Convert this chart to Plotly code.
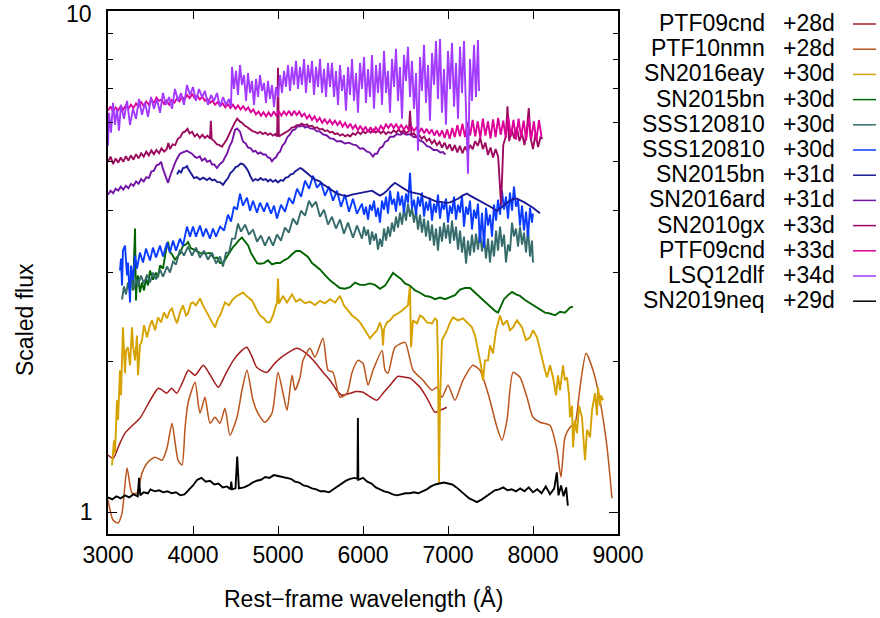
import plotly.graph_objects as go

# Each spectrum: (rest-frame wavelength in Angstrom, scaled flux)
ptf09cnd_28d = [(3000, 1.30), (3062, 1.28), (3130, 1.36), (3200, 1.437), (3290, 1.49), (3376, 1.54), (3470, 1.64),
                (3540, 1.72), (3592, 1.766), (3640, 1.75), (3690, 1.726), (3749, 1.766), (3808, 1.726), (3880, 1.82),
                (3945, 1.919), (4024, 1.875), (4121, 1.963), (4200, 1.88), (4298, 1.774), (4380, 1.88), (4474, 2.008),
                (4560, 2.09), (4632, 2.132), (4690, 2.05), (4749, 1.945), (4867, 1.90), (4950, 1.97), (5024, 2.026),
                (5120, 2.08), (5220, 2.122), (5320, 2.08), (5416, 2.008), (5520, 1.91), (5612, 1.832), (5690, 1.75),
                (5749, 1.711), (5847, 1.726), (5920, 1.74), (6000, 1.734), (6080, 1.70), (6161, 1.671), (6240, 1.73),
                (6318, 1.791), (6412, 1.866), (6480, 1.86), (6553, 1.85), (6671, 1.774), (6760, 1.68), (6847, 1.582),
                (6920, 1.60), (6985, 1.619)]

ptf10nmn_28d = [(3000, 1.057), (3059, 0.964), (3118, 0.951), (3165, 0.995), (3224, 1.224), (3282, 1.091), (3341, 1.091),
                (3400, 1.196), (3471, 1.258), (3553, 1.287), (3635, 1.269), (3694, 1.341), (3753, 1.504), (3824, 1.269),
                (3871, 1.241), (3906, 1.470), (3941, 1.649), (4024, 1.815), (4082, 1.574), (4141, 1.695), (4200, 1.504),
                (4259, 1.546), (4318, 1.504), (4376, 1.611), (4435, 1.423), (4518, 1.546), (4576, 1.750), (4635, 1.919),
                (4706, 1.671), (4765, 1.574), (4847, 1.511), (4929, 1.574), (5000, 1.90), (5059, 1.726), (5106, 1.596),
                (5165, 1.875), (5200, 1.750), (5259, 1.858), (5294, 2.008), (5376, 2.122), (5435, 2.036), (5529, 2.222),
                (5588, 1.919), (5647, 1.90), (5729, 1.695), (5812, 1.726), (5871, 1.90), (5941, 2.008), (6000, 1.981),
                (6059, 1.791), (6118, 1.919), (6224, 2.102), (6259, 1.919), (6294, 1.892), (6376, 2.132), (6494, 2.181),
                (6588, 1.919), (6706, 1.832), (6812, 1.750), (6871, 1.774), (6929, 1.695), (7000, 1.791), (7082, 1.671),
                (7176, 1.832), (7294, 1.963), (7376, 1.919), (7471, 1.726), (7576, 1.477), (7635, 1.391), (7694, 1.525),
                (7765, 1.90), (7847, 1.858), (7929, 1.695), (8000, 1.546), (8082, 1.511), (8200, 1.490), (8282, 1.329),
                (8329, 1.174), (8376, 1.410), (8435, 1.477), (8494, 1.504), (8553, 1.774), (8624, 2.074), (8706, 1.919),
                (8788, 1.671), (8871, 1.347), (8929, 1.066)]

sn2016eay_30d = [(3047, 1.24), (3071, 1.39), (3082, 1.311), (3106, 1.671), (3118, 1.525), (3141, 1.919), (3153, 1.71),
                 (3176, 2.337), (3200, 1.892), (3212, 2.10), (3235, 2.132), (3259, 1.963), (3282, 2.337), (3294, 2.151),
                 (3318, 2.008), (3341, 2.25), (3353, 1.875), (3376, 2.151), (3400, 2.202), (3424, 2.36), (3459, 2.232),
                 (3494, 2.36), (3518, 2.413), (3553, 2.305), (3588, 2.446), (3624, 2.391), (3659, 2.503), (3694, 2.435),
                 (3729, 2.526), (3753, 2.549), (3788, 2.435), (3812, 2.380), (3847, 2.503), (3882, 2.585), (3918, 2.468),
                 (3941, 2.491), (3976, 2.608), (4000, 2.620), (4035, 2.585), (4082, 2.669), (4118, 2.585), (4165, 2.491),
                 (4212, 2.413), (4259, 2.337), (4294, 2.435), (4318, 2.468), (4353, 2.549), (4376, 2.620), (4424, 2.585),
                 (4459, 2.645), (4506, 2.694), (4553, 2.719), (4588, 2.744), (4635, 2.694), (4671, 2.669), (4694, 2.645),
                 (4741, 2.549), (4788, 2.468), (4835, 2.435), (4871, 2.391), (4906, 2.391), (4941, 2.468), (4976, 2.585),
                 (4988, 2.608), (5000, 2.925), (5012, 2.608), (5059, 2.70), (5106, 2.62), (5165, 2.72), (5212, 2.63),
                 (5259, 2.66), (5318, 2.61), (5376, 2.63), (5435, 2.59), (5494, 2.64), (5553, 2.61), (5612, 2.66),
                 (5671, 2.62), (5729, 2.70), (5776, 2.585), (5823, 2.526), (5871, 2.468), (5918, 2.435), (5965, 2.391),
                 (6024, 2.305), (6082, 2.222), (6129, 2.27), (6165, 2.305), (6200, 2.391), (6224, 2.305), (6235, 2.151),
                 (6247, 2.32), (6282, 2.391), (6318, 2.413), (6365, 2.468), (6412, 2.491), (6459, 2.526), (6494, 2.561),
                 (6529, 2.585), (6553, 2.833), (6565, 2.132), (6588, 2.413), (6635, 2.380), (6671, 2.468), (6706, 2.446),
                 (6753, 2.391), (6812, 2.380), (6847, 2.435), (6871, 2.413), (6882, 2.0), (6894, 1.142), (6906, 1.671),
                 (6929, 2.202), (6988, 2.305), (7024, 2.391), (7059, 2.446), (7118, 2.413), (7176, 2.435), (7224, 2.391),
                 (7282, 2.337), (7318, 2.25), (7353, 2.102), (7388, 1.963), (7412, 1.832), (7435, 2.008), (7471, 2.008),
                 (7494, 2.151), (7529, 2.074), (7565, 2.305), (7612, 2.468), (7647, 2.36), (7694, 2.413), (7729, 2.305),
                 (7765, 2.337), (7812, 2.413), (7871, 2.337), (7918, 2.202), (7965, 2.232), (8000, 2.305), (8047, 2.232),
                 (8082, 2.102), (8106, 2.036), (8141, 1.919), (8165, 1.858), (8200, 1.963), (8235, 1.858), (8271, 1.71),
                 (8294, 1.875), (8318, 1.750), (8353, 1.963), (8376, 1.832), (8400, 1.858), (8424, 1.71), (8435, 1.546),
                 (8459, 1.63), (8471, 1.347), (8494, 1.525), (8518, 1.437), (8541, 1.63), (8576, 1.546), (8600, 1.391),
                 (8612, 1.269), (8635, 1.46), (8671, 1.410), (8694, 1.596), (8729, 1.726), (8753, 1.56), (8765, 1.774),
                 (8788, 1.63), (8800, 1.71), (8824, 1.671)]

sn2015bn_30d = [(3294, 2.769), (3306, 3.105), (3318, 3.679), (3329, 2.645), (3341, 2.899), (3353, 2.965), (3376, 2.744),
                (3400, 2.872), (3424, 2.769), (3447, 2.925), (3471, 2.833), (3494, 3.034), (3529, 2.91), (3565, 3.006),
                (3588, 2.94), (3612, 3.105), (3647, 3.06), (3682, 3.325), (3706, 3.465), (3729, 3.30), (3753, 3.27),
                (3788, 3.19), (3812, 3.22), (3847, 3.28), (3882, 3.40), (3918, 3.42), (3941, 3.46), (3976, 3.36),
                (4012, 3.34), (4047, 3.31), (4082, 3.29), (4141, 3.28), (4200, 3.29), (4247, 3.21), (4282, 3.22),
                (4318, 3.14), (4353, 3.14), (4388, 3.21), (4424, 3.29), (4471, 3.38), (4506, 3.43), (4541, 3.49),
                (4576, 3.53), (4612, 3.47), (4647, 3.41), (4682, 3.29), (4718, 3.21), (4753, 3.14), (4788, 3.13),
                (4835, 3.14), (4882, 3.18), (4929, 3.12), (4976, 3.14), (5024, 3.14), (5071, 3.18), (5118, 3.21),
                (5165, 3.27), (5212, 3.32), (5259, 3.32), (5306, 3.27), (5353, 3.23), (5400, 3.14), (5447, 3.10),
                (5494, 3.05), (5553, 2.97), (5612, 2.90), (5671, 2.85), (5729, 2.80), (5788, 2.79), (5847, 2.81),
                (5906, 2.87), (5965, 2.84), (6024, 2.84), (6082, 2.86), (6141, 2.84), (6200, 2.79), (6259, 2.83),
                (6306, 2.92), (6353, 3.00), (6400, 2.96), (6447, 2.92), (6494, 2.86), (6553, 2.83), (6612, 2.77),
                (6671, 2.74), (6729, 2.70), (6788, 2.69), (6847, 2.66), (6906, 2.68), (6965, 2.66), (7024, 2.69),
                (7082, 2.71), (7141, 2.78), (7200, 2.80), (7259, 2.80), (7318, 2.74), (7376, 2.69), (7435, 2.63),
                (7494, 2.57), (7553, 2.52), (7588, 2.50), (7624, 2.57), (7659, 2.66), (7706, 2.71), (7753, 2.75),
                (7800, 2.72), (7847, 2.70), (7906, 2.65), (7965, 2.61), (8024, 2.57), (8082, 2.54), (8141, 2.50),
                (8200, 2.49), (8259, 2.47), (8318, 2.51), (8376, 2.50), (8435, 2.56), (8471, 2.57)]

sss120810_30d_a = [(3165, 2.656), (3188, 2.820), (3212, 2.718), (3235, 2.872), (3259, 2.756), (3282, 2.912), (3306, 2.782),
                   (3329, 2.926), (3353, 2.833), (3388, 2.965), (3424, 2.859), (3459, 2.979), (3494, 2.872), (3529, 3.006),
                   (3565, 2.912), (3612, 3.048), (3647, 2.951), (3694, 3.091), (3729, 3.006), (3765, 3.162), (3800, 3.119),
                   (3847, 3.340), (3894, 3.251), (3941, 3.386), (3988, 3.251), (4035, 3.371), (4082, 3.221), (4129, 3.325),
                   (4176, 3.192), (4224, 3.294), (4271, 3.134), (4318, 3.236), (4353, 3.091), (4388, 3.294), (4424, 3.294),
                   (4459, 3.513), (4494, 3.513), (4529, 3.764), (4565, 3.629), (4612, 3.747), (4659, 3.578), (4706, 3.663),
                   (4753, 3.465), (4800, 3.562), (4847, 3.402), (4894, 3.546), (4941, 3.402), (4988, 3.578), (5035, 3.481),
                   (5082, 3.696), (5129, 3.612), (5176, 3.852), (5224, 3.747), (5271, 3.995), (5318, 3.904), (5365, 4.182),
                   (5400, 4.069), (5447, 4.163), (5494, 3.886), (5541, 4.013), (5588, 3.747), (5635, 3.886), (5682, 3.680),
                   (5729, 3.835), (5776, 3.595), (5823, 3.782), (5882, 3.529), (5929, 3.730),
                   (5988, 3.513), (6012, 3.713), (6035, 3.562), (6059, 3.663), (6082, 3.418), (6106, 3.629), (6129, 3.481),
                   (6153, 3.595), (6176, 3.340), (6200, 3.513), (6224, 3.386), (6247, 3.680), (6271, 3.481), (6294, 3.713),
                   (6318, 3.546), (6341, 3.782), (6365, 3.629), (6388, 3.886), (6412, 3.696), (6435, 3.958), (6459, 3.747),
                   (6482, 4.032), (6506, 3.817), (6529, 4.125), (6553, 3.886), (6576, 4.050), (6600, 3.782), (6624, 3.995),
                   (6647, 3.663), (6671, 3.922), (6694, 3.612), (6718, 3.852), (6741, 3.546), (6765, 3.817), (6788, 3.481),
                   (6812, 3.747), (6835, 3.402), (6859, 3.680), (6882, 3.325), (6906, 3.713), (6929, 3.465), (6953, 3.782),
                   (6976, 3.513), (7000, 3.747), (7024, 3.434), (7047, 3.817), (7071, 3.481), (7094, 3.713), (7118, 3.340),
                   (7141, 3.646), (7165, 3.296), (7188, 3.546), (7212, 3.133), (7235, 3.481), (7259, 3.251), (7282, 3.578),
                   (7306, 3.296), (7329, 3.595), (7353, 3.340), (7376, 3.646), (7400, 3.311), (7424, 3.546), (7447, 3.206),
                   (7471, 3.513), (7494, 3.148), (7518, 3.481), (7541, 3.236), (7565, 3.646), (7588, 3.325), (7612, 3.713),
                   (7635, 3.386), (7659, 3.578), (7682, 3.148), (7706, 3.418), (7729, 3.311), (7753, 3.782), (7776, 3.546),
                   (7800, 3.680), (7824, 3.386), (7847, 3.713), (7871, 3.418), (7894, 3.612), (7918, 3.296), (7941, 3.680),
                   (7965, 3.236), (7988, 3.481), (8000, 3.148)]

sss120810_30d_b = [(3141, 3.034), (3153, 3.206), (3165, 2.833), (3176, 3.325), (3200, 3.402), (3224, 2.965), (3235, 3.148),
                   (3259, 2.620), (3271, 3.105), (3294, 2.899), (3318, 3.251), (3341, 3.062), (3376, 3.296), (3412, 3.148),
                   (3447, 3.356), (3494, 3.177), (3529, 3.371), (3565, 3.221), (3612, 3.402), (3647, 3.236), (3694, 3.449),
                   (3729, 3.296), (3765, 3.481), (3800, 3.325), (3847, 3.513), (3882, 3.402), (3929, 3.713), (3965, 3.546),
                   (4000, 3.713), (4035, 3.546), (4082, 3.730), (4118, 3.546), (4153, 3.680), (4200, 3.513), (4235, 3.680),
                   (4271, 3.546), (4318, 3.713), (4365, 3.646), (4412, 3.922), (4447, 3.799), (4482, 4.069), (4518, 4.013),
                   (4553, 4.319), (4588, 4.088), (4635, 4.241), (4671, 3.995), (4706, 4.182), (4753, 3.958), (4788, 4.144),
                   (4835, 3.976), (4871, 4.144), (4918, 3.940), (4953, 4.088), (4988, 3.852), (5035, 4.107), (5082, 3.976),
                   (5129, 4.241), (5176, 4.125), (5224, 4.420), (5271, 4.260), (5318, 4.585), (5365, 4.420), (5412, 4.691),
                   (5459, 4.440), (5506, 4.543), (5553, 4.280), (5600, 4.460), (5647, 4.182), (5694, 4.379), (5741, 4.069),
                   (5788, 4.300), (5835, 3.976), (5882, 4.221), (5929, 3.940),
                   (5988, 4.125), (6012, 3.922), (6035, 4.069), (6059, 3.835), (6082, 4.107), (6106, 3.995), (6129, 4.182),
                   (6153, 3.886), (6176, 4.050), (6200, 3.782), (6224, 4.182), (6247, 4.013), (6271, 4.260), (6294, 3.940),
                   (6318, 4.379), (6341, 4.107), (6365, 4.221), (6388, 3.977), (6412, 4.359), (6435, 4.088), (6459, 4.280),
                   (6482, 3.958), (6506, 4.319), (6529, 4.144), (6553, 4.756), (6576, 4.032), (6600, 4.201), (6624, 3.922),
                   (6647, 4.260), (6671, 4.069), (6694, 4.339), (6718, 3.886), (6741, 4.163), (6765, 3.995), (6788, 4.241),
                   (6812, 3.817), (6835, 4.125), (6859, 3.958), (6882, 4.300), (6906, 3.852), (6929, 4.144), (6953, 4.013),
                   (6976, 4.221), (7000, 3.782), (7024, 4.088), (7047, 3.940), (7071, 4.260), (7094, 3.835), (7118, 4.107),
                   (7141, 3.958), (7165, 4.280), (7188, 3.713), (7212, 4.069), (7235, 3.922), (7259, 4.182), (7282, 3.663),
                   (7306, 4.013), (7329, 3.852), (7353, 4.125), (7376, 3.449), (7400, 3.958), (7424, 3.371), (7447, 4.050),
                   (7471, 3.730), (7494, 3.922), (7518, 3.546), (7541, 4.107), (7565, 3.817), (7588, 4.201), (7612, 3.922),
                   (7635, 4.379), (7659, 4.013), (7682, 4.260), (7706, 3.852), (7729, 4.339), (7753, 3.995), (7776, 4.460),
                   (7800, 4.069), (7824, 4.201), (7847, 3.730), (7871, 4.088), (7894, 3.646), (7918, 3.977), (7941, 3.546),
                   (7965, 4.050), (7988, 3.782), (8000, 3.940)]

sn2015bn_31d = [(3812, 4.72), (3835, 4.80), (3859, 4.76), (3882, 4.86), (3906, 4.87), (3930, 4.90), (3941, 4.85),
                (3960, 4.80), (3976, 4.74), (3995, 4.70), (4012, 4.64), (4045, 4.66), (4082, 4.61), (4120, 4.65),
                (4165, 4.60), (4195, 4.64), (4224, 4.59), (4255, 4.61), (4282, 4.56), (4320, 4.55), (4353, 4.50),
                (4385, 4.58), (4412, 4.64), (4440, 4.75), (4471, 4.80), (4500, 4.88), (4529, 4.90), (4560, 4.96),
                (4588, 4.95), (4620, 4.88), (4647, 4.80), (4675, 4.68), (4706, 4.58), (4735, 4.62), (4765, 4.59),
                (4795, 4.64), (4824, 4.60), (4855, 4.62), (4882, 4.57), (4910, 4.61), (4941, 4.56), (4970, 4.60),
                (5000, 4.55), (5030, 4.60), (5059, 4.58), (5090, 4.65), (5118, 4.66), (5150, 4.72), (5176, 4.73),
                (5205, 4.79), (5235, 4.82), (5260, 4.86), (5282, 4.84), (5305, 4.80), (5329, 4.77), (5355, 4.73),
                (5376, 4.69), (5410, 4.64), (5447, 4.60), (5490, 4.57), (5529, 4.51), (5570, 4.47), (5612, 4.42),
                (5650, 4.37), (5694, 4.32), (5750, 4.29), (5812, 4.27), (5870, 4.30), (5929, 4.32), (5975, 4.33),
                (6024, 4.35), (6065, 4.36), (6106, 4.38), (6150, 4.33), (6200, 4.28), (6240, 4.32), (6282, 4.38),
                (6330, 4.47), (6376, 4.54), (6410, 4.50), (6447, 4.46), (6480, 4.41), (6518, 4.38), (6560, 4.35),
                (6600, 4.34), (6635, 4.33), (6671, 4.31), (6710, 4.27), (6753, 4.24), (6790, 4.20), (6824, 4.18),
                (6870, 4.16), (6918, 4.16), (6970, 4.14), (7024, 4.15), (7070, 4.18), (7118, 4.22), (7170, 4.28),
                (7224, 4.32), (7260, 4.28), (7294, 4.25), (7335, 4.21), (7376, 4.18), (7420, 4.14), (7471, 4.10),
                (7520, 4.05), (7576, 3.99), (7605, 4.03), (7635, 4.07), (7665, 4.11), (7694, 4.14), (7725, 4.18),
                (7753, 4.20), (7780, 4.22), (7812, 4.22), (7840, 4.20), (7871, 4.18), (7900, 4.15), (7929, 4.12),
                (7965, 4.09), (8000, 4.05), (8040, 4.00), (8082, 3.95)]

sn2016ard_31d = [(3000, 4.30), (3030, 4.38), (3060, 4.33), (3090, 4.42), (3120, 4.38), (3150, 4.46), (3180, 4.40),
                 (3210, 4.48), (3240, 4.43), (3270, 4.52), (3300, 4.48), (3330, 4.57), (3360, 4.52), (3390, 4.62),
                 (3420, 4.57), (3450, 4.66), (3480, 4.64), (3510, 4.78), (3540, 4.80), (3570, 4.92), (3600, 4.94),
                 (3625, 5.00), (3647, 4.84), (3670, 4.70), (3695, 4.56), (3706, 4.54), (3730, 4.68), (3765, 4.87),
                 (3790, 4.98), (3812, 5.07), (3847, 5.19), (3880, 5.22), (3929, 5.26), (3960, 5.22), (3988, 5.19),
                 (4020, 5.12), (4047, 5.09), (4080, 5.13), (4106, 5.03), (4140, 5.08), (4165, 5.00), (4200, 5.03),
                 (4224, 4.94), (4250, 4.94), (4282, 4.86), (4318, 4.95), (4353, 5.01), (4380, 5.12), (4400, 5.19),
                 (4430, 5.37), (4459, 5.49), (4494, 5.79), (4518, 5.83), (4553, 5.74), (4588, 5.49), (4620, 5.44),
                 (4647, 5.34), (4680, 5.32), (4706, 5.24), (4735, 5.26), (4765, 5.19), (4795, 5.22), (4824, 5.17),
                 (4855, 5.17), (4882, 5.10), (4905, 5.09), (4929, 5.01), (4955, 5.08), (4976, 5.10), (5000, 5.20),
                 (5024, 5.24), (5050, 5.38), (5082, 5.46), (5110, 5.60), (5141, 5.67), (5170, 5.78), (5200, 5.80),
                 (5230, 5.89), (5259, 5.88), (5290, 5.91), (5318, 5.85), (5345, 5.88), (5376, 5.83), (5420, 5.82),
                 (5459, 5.75), (5490, 5.75), (5529, 5.67), (5570, 5.65), (5612, 5.57), (5650, 5.56), (5694, 5.49),
                 (5740, 5.50), (5788, 5.44), (5835, 5.46), (5882, 5.41), (5920, 5.40), (5965, 5.31), (6000, 5.32),
                 (6047, 5.24), (6080, 5.22), (6118, 5.12), (6140, 5.19), (6165, 5.19), (6200, 5.33), (6230, 5.36),
                 (6259, 5.48), (6290, 5.51), (6318, 5.61), (6360, 5.61), (6400, 5.68), (6440, 5.66), (6471, 5.71),
                 (6510, 5.66), (6553, 5.68), (6600, 5.60), (6635, 5.61), (6670, 5.51), (6706, 5.48), (6750, 5.38),
                 (6788, 5.35), (6830, 5.28), (6871, 5.28), (6910, 5.22), (6941, 5.23), (6970, 5.17)]

sn2010gx_33d = [(3000, 5.00), (3030, 5.12), (3060, 4.95), (3090, 5.08), (3120, 4.98), (3150, 5.10), (3180, 5.00),
                (3210, 5.13), (3240, 5.03), (3270, 5.15), (3300, 5.05), (3330, 5.18), (3360, 5.08), (3390, 5.20),
                (3420, 5.12), (3450, 5.24), (3480, 5.15), (3510, 5.27), (3540, 5.18), (3570, 5.28), (3600, 5.20),
                (3630, 5.32), (3660, 5.24), (3690, 5.30), (3710, 5.45), (3730, 5.30), (3760, 5.42), (3790, 5.40),
                (3820, 5.55), (3850, 5.60), (3880, 5.72), (3910, 5.75), (3935, 5.82), (3960, 5.70), (3990, 5.74),
                (4020, 5.62), (4050, 5.68), (4080, 5.58), (4110, 5.66), (4140, 5.58), (4170, 5.64), (4200, 5.56),
                (4210, 6.04), (4220, 5.55), (4250, 5.50), (4280, 5.42), (4310, 5.40), (4340, 5.36), (4370, 5.45),
                (4400, 5.55), (4430, 5.70), (4460, 5.85), (4490, 5.98), (4520, 6.10), (4550, 6.02), (4580, 5.98),
                (4610, 5.90), (4640, 5.86), (4670, 5.80), (4700, 5.76), (4730, 5.74), (4760, 5.70), (4790, 5.74),
                (4820, 5.68), (4850, 5.72), (4880, 5.66), (4910, 5.70), (4940, 5.64), (4970, 5.68), (4990, 5.62),
                (5000, 7.70), (5010, 5.62), (5040, 5.66), (5070, 5.70), (5100, 5.74), (5130, 5.78), (5160, 5.85),
                (5190, 5.86), (5220, 5.92), (5250, 5.92), (5280, 5.96), (5310, 5.92), (5340, 5.94), (5370, 5.88),
                (5400, 5.90), (5430, 5.84), (5460, 5.86), (5490, 5.80), (5520, 5.82), (5550, 5.76), (5580, 5.78),
                (5610, 5.72), (5640, 5.74), (5670, 5.68), (5700, 5.70), (5730, 5.64), (5760, 5.68), (5790, 5.62),
                (5820, 5.66), (5850, 5.62), (5880, 5.70), (5910, 5.66), (5940, 5.74), (5970, 5.68), (6000, 5.75),
                (6030, 5.70), (6060, 5.78), (6090, 5.72), (6120, 5.80), (6150, 5.72), (6180, 5.78), (6210, 5.70),
                (6240, 5.76), (6270, 5.68), (6300, 5.74), (6330, 5.70), (6360, 5.78), (6390, 5.72), (6420, 5.80),
                (6450, 5.72), (6480, 5.78), (6510, 5.70), (6540, 5.76), (6553, 6.32), (6570, 5.66), (6600, 5.70),
                (6630, 5.60), (6660, 5.66), (6690, 5.56), (6720, 5.62), (6750, 5.50), (6780, 5.56), (6810, 5.44),
                (6840, 5.52), (6870, 5.40), (6900, 5.48), (6930, 5.34), (6960, 5.46), (6990, 5.30), (7020, 5.42),
                (7050, 5.26), (7080, 5.40), (7110, 5.22), (7140, 5.38), (7170, 5.20), (7200, 5.36), (7230, 5.24),
                (7260, 5.40), (7290, 5.30), (7320, 5.50), (7350, 5.38), (7380, 5.58), (7410, 5.30), (7440, 5.46),
                (7470, 5.16), (7500, 5.34), (7530, 5.10), (7560, 5.30), (7590, 5.12), (7625, 4.10), (7650, 5.40),
                (7680, 5.62), (7700, 6.45), (7720, 5.50), (7750, 5.80), (7780, 5.56), (7810, 5.86), (7840, 5.50),
                (7870, 5.70), (7900, 5.40), (7930, 5.85), (7950, 6.40), (7970, 5.60), (8000, 5.30), (8030, 5.70),
                (8060, 5.35), (8090, 5.62), (8110, 5.55)]

ptf09cnd_33d = [(3000, 6.32), (3030, 6.45), (3060, 6.30), (3090, 6.42), (3120, 6.34), (3150, 6.46), (3180, 6.36),
                (3210, 6.48), (3240, 6.38), (3270, 6.50), (3300, 6.40), (3330, 6.54), (3360, 6.44), (3390, 6.58),
                (3420, 6.46), (3450, 6.60), (3480, 6.50), (3510, 6.66), (3540, 6.55), (3570, 6.72), (3600, 6.62),
                (3630, 6.66), (3660, 6.52), (3690, 6.62), (3720, 6.50), (3750, 6.64), (3780, 6.56), (3810, 6.68),
                (3840, 6.60), (3870, 6.74), (3900, 6.66), (3930, 6.80), (3960, 6.70), (3990, 6.82), (4020, 6.70),
                (4050, 6.78), (4080, 6.66), (4110, 6.74), (4140, 6.62), (4170, 6.68), (4200, 6.56), (4230, 6.62),
                (4260, 6.50), (4290, 6.58), (4320, 6.46), (4350, 6.54), (4380, 6.42), (4410, 6.52), (4440, 6.40),
                (4470, 6.50), (4500, 6.38), (4530, 6.48), (4560, 6.36), (4590, 6.46), (4620, 6.34), (4650, 6.42),
                (4680, 6.28), (4710, 6.36), (4740, 6.22), (4770, 6.30), (4800, 6.18), (4830, 6.28), (4860, 6.16),
                (4890, 6.28), (4920, 6.16), (4950, 6.30), (4980, 6.18), (5010, 6.30), (5040, 6.18), (5070, 6.30),
                (5100, 6.20), (5130, 6.32), (5160, 6.18), (5190, 6.32), (5220, 6.20), (5250, 6.30), (5280, 6.16),
                (5310, 6.24), (5340, 6.10), (5370, 6.20), (5400, 6.06), (5430, 6.16), (5460, 6.02), (5490, 6.12),
                (5520, 5.98), (5550, 6.08), (5580, 5.96), (5610, 6.06), (5640, 5.94), (5670, 6.04), (5700, 5.92),
                (5730, 6.02), (5760, 5.88), (5790, 5.98), (5820, 5.84), (5850, 5.96), (5880, 5.82), (5910, 5.92),
                (5940, 5.78), (5970, 5.90), (6000, 5.76), (6030, 5.88), (6060, 5.74), (6090, 5.86), (6120, 5.72),
                (6150, 5.86), (6180, 5.76), (6210, 5.90), (6240, 5.80), (6270, 5.94), (6300, 5.84), (6330, 5.96),
                (6360, 5.84), (6390, 5.94), (6420, 5.82), (6450, 5.92), (6480, 5.80), (6510, 5.90), (6540, 5.78),
                (6570, 5.88), (6600, 5.76), (6630, 5.86), (6660, 5.72), (6690, 5.84), (6720, 5.70), (6750, 5.82),
                (6780, 5.68), (6810, 5.80), (6840, 5.64), (6870, 5.78), (6900, 5.62), (6930, 5.78), (6960, 5.58),
                (6990, 5.80), (7020, 5.56), (7050, 5.84), (7080, 5.60), (7110, 5.92), (7140, 5.62), (7170, 5.96),
                (7200, 5.60), (7230, 6.00), (7260, 5.64), (7290, 6.06), (7320, 5.62), (7350, 6.02), (7380, 5.58),
                (7410, 6.10), (7440, 5.64), (7470, 6.02), (7500, 5.56), (7530, 6.08), (7560, 5.60), (7590, 6.12),
                (7620, 5.66), (7650, 6.04), (7680, 5.58), (7710, 6.14), (7740, 5.62), (7770, 6.06), (7800, 5.54),
                (7830, 6.10), (7860, 5.60), (7890, 6.04), (7920, 5.52), (7950, 6.12), (7980, 5.56), (8010, 6.02),
                (8040, 5.50), (8070, 6.06), (8100, 5.62)]

lsq12dlf_34d = [(3000, 5.384), (3012, 6.265), (3035, 5.715), (3059, 6.557), (3082, 5.928), (3106, 6.379), (3129, 5.767),
                (3153, 6.497), (3188, 6.094), (3224, 6.617), (3259, 5.928), (3294, 6.379), (3329, 6.094), (3365, 6.675),
                (3400, 6.208), (3435, 6.557), (3471, 6.150), (3506, 6.736), (3541, 6.379), (3576, 6.675), (3612, 6.265),
                (3647, 6.861), (3682, 6.497), (3718, 6.736), (3753, 6.379), (3788, 6.988), (3824, 6.617), (3859, 6.861),
                (3894, 6.497), (3929, 7.118), (3965, 6.798), (4000, 7.053), (4035, 6.617), (4071, 6.988), (4106, 6.736),
                (4141, 6.924), (4176, 6.497), (4212, 6.798), (4247, 6.617), (4282, 6.861), (4318, 6.438), (4353, 6.736),
                (4388, 6.497), (4424, 6.675), (4447, 6.438),
                (4459, 7.733), (4482, 6.988), (4506, 7.592), (4529, 6.798), (4553, 7.804), (4576, 7.118), (4600, 7.453),
                (4624, 6.617), (4647, 7.522), (4671, 6.861), (4694, 7.250), (4718, 6.497), (4741, 7.317), (4765, 6.736),
                (4788, 7.453), (4812, 6.924), (4835, 7.184), (4859, 6.557), (4882, 7.250), (4906, 6.675), (4929, 7.118),
                (4953, 6.438), (4976, 7.053), (5000, 6.736), (5024, 7.453), (5047, 6.861), (5071, 7.592), (5094, 7.053),
                (5118, 7.804), (5141, 6.924), (5165, 7.733), (5188, 7.118), (5212, 7.950), (5235, 6.988), (5259, 7.733),
                (5282, 7.118), (5306, 8.023), (5329, 6.861), (5353, 7.804), (5376, 7.184), (5400, 7.950), (5424, 6.798),
                (5447, 7.733), (5471, 7.053), (5494, 8.023), (5518, 6.861), (5541, 7.662), (5565, 6.736), (5588, 7.877),
                (5612, 7.053), (5635, 7.877), (5659, 6.736), (5682, 7.592), (5706, 6.497), (5729, 7.804), (5753, 6.924),
                (5776, 7.453), (5800, 6.322), (5824, 7.733), (5847, 6.798), (5871, 8.023), (5894, 6.617), (5918, 7.522),
                (5941, 6.265), (5965, 7.877), (5988, 6.988), (6012, 8.097), (6035, 6.557), (6059, 7.662), (6082, 6.736),
                (6106, 8.172), (6129, 6.379), (6153, 7.804), (6176, 6.861),
                (6200, 7.877), (6224, 6.497), (6247, 8.324), (6271, 6.861), (6294, 7.592), (6318, 6.265), (6341, 8.023),
                (6365, 7.053), (6388, 8.401), (6412, 6.617), (6435, 7.733), (6459, 6.094), (6482, 8.172), (6506, 7.250),
                (6529, 8.479), (6553, 6.736), (6576, 7.950), (6600, 6.379), (6624, 7.522), (6647, 5.260), (6671, 8.097),
                (6694, 6.924), (6718, 8.557), (6741, 6.557), (6765, 7.804), (6788, 6.038), (6812, 8.248), (6835, 7.118),
                (6859, 8.715), (6882, 6.675), (6906, 8.795), (6929, 6.265), (6953, 7.662), (6976, 5.928), (7000, 8.324),
                (7024, 6.988), (7047, 8.636), (7071, 6.438), (7094, 7.877), (7118, 6.094), (7141, 8.479), (7165, 6.861),
                (7188, 8.715), (7212, 6.322), (7235, 4.734), (7259, 8.023), (7282, 6.617), (7306, 8.557), (7329, 6.736),
                (7353, 8.755), (7365, 6.924)]

sn2019neq_29d = [(3000, 1.07), (3050, 1.06), (3100, 1.075), (3150, 1.065), (3200, 1.08), (3250, 1.07), (3300, 1.085),
                 (3350, 1.075), (3365, 1.17), (3380, 1.08), (3420, 1.095), (3470, 1.09), (3500, 1.11), (3550, 1.10),
                 (3600, 1.105), (3650, 1.095), (3700, 1.10), (3750, 1.09), (3800, 1.095), (3850, 1.08), (3900, 1.085),
                 (3950, 1.105), (4000, 1.13), (4050, 1.16), (4100, 1.17), (4150, 1.15), (4200, 1.155), (4250, 1.135),
                 (4300, 1.14), (4350, 1.12), (4400, 1.125), (4440, 1.11), (4450, 1.15), (4460, 1.11), (4500, 1.115),
                 (4520, 1.29), (4540, 1.115), (4600, 1.12), (4650, 1.13), (4700, 1.145), (4750, 1.155), (4800, 1.16),
                 (4850, 1.175), (4900, 1.17), (4950, 1.185), (5000, 1.18), (5050, 1.175), (5100, 1.17), (5150, 1.165),
                 (5200, 1.15), (5250, 1.145), (5300, 1.13), (5350, 1.125), (5400, 1.115), (5450, 1.11), (5500, 1.10),
                 (5550, 1.10), (5600, 1.095), (5650, 1.11), (5700, 1.125), (5750, 1.14), (5800, 1.155), (5850, 1.165),
                 (5900, 1.17), (5935, 1.165), (5940, 1.54), (5945, 1.16), (6000, 1.17), (6050, 1.15), (6100, 1.14),
                 (6150, 1.12), (6200, 1.11), (6250, 1.10), (6300, 1.095), (6350, 1.085), (6400, 1.08), (6450, 1.085),
                 (6500, 1.09), (6550, 1.09), (6600, 1.095), (6650, 1.09), (6700, 1.10), (6750, 1.11), (6800, 1.125),
                 (6850, 1.135), (6900, 1.14), (6950, 1.145), (7000, 1.14), (7050, 1.135), (7100, 1.12), (7150, 1.10),
                 (7200, 1.085), (7250, 1.065), (7300, 1.055), (7340, 1.047), (7400, 1.06), (7450, 1.075), (7500, 1.09),
                 (7550, 1.105), (7600, 1.11), (7650, 1.12), (7700, 1.105), (7750, 1.11), (7800, 1.10), (7850, 1.115),
                 (7900, 1.10), (7950, 1.12), (8000, 1.095), (8050, 1.11), (8100, 1.09), (8150, 1.125), (8200, 1.085),
                 (8250, 1.115), (8280, 1.20), (8300, 1.08), (8330, 1.13), (8360, 1.075), (8390, 1.12), (8410, 1.03)]

# Legend entries, in plotting order
objects = ["PTF09cnd", "PTF10nmn", "SN2016eay", "SN2015bn", "SSS120810", "SSS120810",
           "SN2015bn", "SN2016ard", "SN2010gx", "PTF09cnd", "LSQ12dlf", "SN2019neq"]
phases = ["+28d", "+28d", "+30d", "+30d", "+30d", "+30d",
          "+31d", "+31d", "+33d", "+33d", "+34d", "+29d"]
colors = ["#a41c1c", "#b9541c", "#d6a200", "#006400", "#356b6b", "#0a3cff",
          "#1a1a96", "#7414a6", "#9b0a5e", "#dd0099", "#a33bff", "#000000"]
spectra = [ptf09cnd_28d, ptf10nmn_28d, sn2016eay_30d, sn2015bn_30d, sss120810_30d_a, sss120810_30d_b,
           sn2015bn_31d, sn2016ard_31d, sn2010gx_33d, ptf09cnd_33d, lsq12dlf_34d, sn2019neq_29d]
smooth = [True, True] + [False] * 10

# y-axis decades with labels
y_major = [1, 10]
y_minor = [2, 3, 4, 5, 6, 7, 8, 9]

FONT = "Liberation Sans, Arial, Helvetica, sans-serif"
FS = 23

fig = go.Figure()
for spec, col, sm in zip(spectra, colors, smooth):
    wl = [p[0] for p in spec]
    fx = [p[1] for p in spec]
    fig.add_trace(go.Scatter(
        x=wl, y=fx, mode="lines",
        line=dict(color=col, width=1.5 if sm else 1.9,
                  shape="spline" if sm else "linear", smoothing=0.6 if sm else 0),
        hoverinfo="skip", showlegend=False))

# plot area in pixels (880 x 618 canvas)
L, R, T, B = 108, 618, 11, 534


def paper_x(px):
    return (px - L) / (R - L)


def paper_y(py):
    return (B - py) / (B - T)


annotations = []
shapes = []
for i, (obj, ph, col) in enumerate(zip(objects, phases, colors)):
    yrow = 23 + 25.2 * i
    annotations.append(dict(x=paper_x(767), y=paper_y(yrow), xref="paper", yref="paper", text=obj,
                            showarrow=False, xanchor="right", yanchor="middle",
                            font=dict(family=FONT, size=FS, color="black")))
    annotations.append(dict(x=paper_x(837), y=paper_y(yrow), xref="paper", yref="paper", text=ph,
                            showarrow=False, xanchor="right", yanchor="middle",
                            font=dict(family=FONT, size=FS, color="black")))
    shapes.append(dict(type="line", xref="paper", yref="paper",
                       x0=paper_x(853), x1=paper_x(876), y0=paper_y(yrow + 1), y1=paper_y(yrow + 1),
                       line=dict(color=col, width=1.5)))

# the top decade label sits against the upper edge of the canvas, so it is pinned inside it
annotations.append(dict(x=paper_x(93), y=paper_y(0), xref="paper", yref="paper", text=str(y_major[-1]),
                        showarrow=False, xanchor="right", yanchor="top", borderpad=0,
                        font=dict(family=FONT, size=FS, color="black")))
annotations.append(dict(x=0.5, y=paper_y(598), xref="paper", yref="paper", text="Rest\u2212frame wavelength (\u00c5)",
                        showarrow=False, xanchor="center", yanchor="middle",
                        font=dict(family=FONT, size=FS, color="black")))
annotations.append(dict(x=paper_x(25), y=paper_y(320), xref="paper", yref="paper", text="Scaled flux",
                        showarrow=False, xanchor="center", yanchor="middle", textangle=-90,
                        font=dict(family=FONT, size=FS, color="black")))

fig.update_layout(
    width=880, height=618,
    margin=dict(l=L, r=880 - R, t=T, b=618 - B, autoexpand=False),
    paper_bgcolor="white", plot_bgcolor="white",
    font=dict(family=FONT, size=FS, color="black"),
    showlegend=False,
    annotations=annotations,
    shapes=shapes,
    xaxis=dict(range=[3000, 9000], tickmode="array", tickvals=[3000, 4000, 5000, 6000, 7000, 8000, 9000],
               ticks="inside", ticklen=8, tickwidth=1.3, tickcolor="black",
               showline=True, linecolor="black", linewidth=1.5, mirror="ticks",
               showgrid=False, zeroline=False, automargin=False, ticklabeloverflow="allow"),
    yaxis=dict(type="log", range=[-0.0438, 1.0], tickmode="array", tickvals=y_major,
               ticktext=[str(y_major[0]), ""],
               ticks="inside", ticklen=9, tickwidth=1.3, tickcolor="black", ticklabelstandoff=9,
               minor=dict(tickmode="array", tickvals=y_minor, ticks="inside", ticklen=5,
                          tickwidth=1.3, tickcolor="black", showgrid=False),
               showline=True, linecolor="black", linewidth=1.5, mirror="ticks",
               showgrid=False, zeroline=False, automargin=False),
)

fig.write_html("out.html")
